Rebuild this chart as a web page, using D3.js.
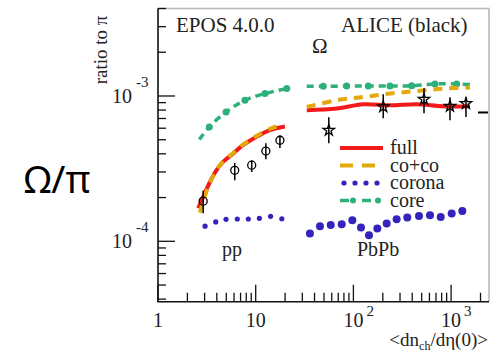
<!DOCTYPE html>
<meta charset="utf-8">
<style>
  body { margin: 0; background: #fff; }
  text { font-family: "Liberation Serif", "DejaVu Serif", serif; fill: #222; }
  .big { font-family: "Noto Sans", "Open Sans", sans-serif; fill: #000; }
</style>

<body>
  <script src="https://cdn.jsdelivr.net/npm/d3@7"></script>
  <script>
    // ALICE data (black)
    var ppMult = [2.9, 6.1, 9.1, 12.7, 17.7];
    var ppRatio = [1.89e-4, 3.08e-4, 3.34e-4, 4.18e-4, 4.96e-4];
    var ppErrLo = [1.56e-4, 2.63e-4, 3.0e-4, 3.67e-4, 4.39e-4];
    var ppErrHi = [2.24e-4, 3.46e-4, 3.61e-4, 4.72e-4, 5.37e-4];

    var pbMult = [56, 202, 528, 974, 1420];
    var pbRatio = [5.81e-4, 8.43e-4, 9.49e-4, 8.49e-4, 8.87e-4];
    var pbErrLo = [4.72e-4, 7.02e-4, 7.6e-4, 6.8e-4, 7.17e-4];
    var pbErrHi = [7.13e-4, 1.027e-3, 1.13e-3, 9.8e-4, 9.8e-4];

    var sideMark = [2120, 7.7e-4];

    // EPOS 4.0.0 curves, pp
    var ppFullX = [2.58, 2.91, 3.41, 3.99, 4.66, 5.9, 7.47, 10.2, 14.0, 19.9];
    var ppFullY = [1.69e-4, 2.03e-4, 2.57e-4, 3.1e-4, 3.53e-4, 4.03e-4, 4.6e-4, 5.25e-4, 5.83e-4, 6.17e-4];
    var ppCocoX = [2.69, 2.95, 3.41, 3.99, 4.66, 5.9, 7.47, 10.2, 14.0, 17.5];
    var ppCocoY = [1.57e-4, 1.95e-4, 2.55e-4, 3.1e-4, 3.55e-4, 4.06e-4, 4.64e-4, 5.3e-4, 5.95e-4, 6.25e-4];
    var ppCoreX = [2.65, 3.35, 4.97, 7.77, 12.45, 20.8];
    var ppCoreY = [5.01e-4, 6.12e-4, 7.76e-4, 9.34e-4, 1.039e-3, 1.124e-3];
    var ppCoronaX = [3.03, 3.9, 4.97, 6.48, 8.4, 10.9, 14.2, 18.5];
    var ppCoronaY = [1.27e-4, 1.36e-4, 1.417e-4, 1.424e-4, 1.424e-4, 1.44e-4, 1.486e-4, 1.43e-4];

    // EPOS 4.0.0 curves, PbPb
    var pbFullX = [33.3, 67.5, 126, 237, 444, 832, 1561];
    var pbFullY = [7.97e-4, 8.19e-4, 8.77e-4, 8.63e-4, 8.77e-4, 8.49e-4, 8.49e-4];
    var pbCocoY = [8.4e-4, 9.34e-4, 9.84e-4, 1.039e-3, 1.082e-3, 1.124e-3, 1.142e-3];
    var pbCoreX = [33.3, 49.2, 85.3, 142, 237, 395, 684, 1140, 1561];
    var pbCoreY = [1.166e-3, 1.166e-3, 1.17e-3, 1.17e-3, 1.17e-3, 1.175e-3, 1.21e-3, 1.21e-3, 1.2e-3];
    var pbCoronaX = [35.9, 45.5, 58.6, 75.9, 97.5, 119.6, 144.4, 175.8, 219, 277, 356, 469, 608, 783, 1014, 1303];
    var pbCoronaY = [1.13e-4, 1.27e-4, 1.295e-4, 1.309e-4, 1.395e-4, 1.243e-4, 1.1e-4, 1.223e-4,
      1.324e-4, 1.417e-4, 1.456e-4, 1.494e-4, 1.51e-4, 1.47e-4, 1.552e-4, 1.616e-4];

    var legendNames = ["full", "co+co", "corona", "core"];
    var xMajor = [1, 10, 100, 1000];
    var xMajorExp = ["", "", "2", "3"];
    var yMajor = [1e-4, 1e-3];
    var yMajorExp = ["-4", "-3"];

    var colors = {
      full: "#f31a1a",
      coco: "#e3a90a",
      corona: "#3424bd",
      core: "#2eb07b"
    };

    var margin = { top: 8.5, right: 13, bottom: 51.3, left: 158 },
      W = 502, H = 353,
      width = W - margin.left - margin.right,
      height = H - margin.top - margin.bottom;

    var x = d3.scaleLog().domain([1, 2443]).range([0, width]);
    var y = d3.scaleLog().domain([3.84e-5, 4.0e-3]).range([height, 0]);

    var svg = d3.select("body").append("svg")
      .attr("width", W)
      .attr("height", H);

    svg.append("text")
      .attr("class", "big")
      .attr("x", 24)
      .attr("y", 193)
      .style("font-size", "38px")
      .text("Ω/π");

    var g = svg.append("g")
      .attr("transform", "translate(" + margin.left + "," + margin.top + ")");

    function zip(xs, ys) {
      return xs.map(function (v, i) { return [v, ys[i]]; });
    }

    var line = d3.line()
      .x(function (d) { return x(d[0]); })
      .y(function (d) { return y(d[1]); })
      .curve(d3.curveCatmullRom.alpha(0.5));

    // frame
    g.append("path")
      .attr("d", "M0,0H" + width + "V" + height)
      .attr("fill", "none")
      .attr("stroke", "#b5b5b5")
      .attr("stroke-width", 1.5);

    // minor / major ticks
    var xTicks = [];
    [1, 10, 100, 1000].forEach(function (dec) {
      for (var k = 1; k < 10; k++) {
        if (dec * k <= 2443) xTicks.push({ v: dec * k, major: k === 1 });
      }
    });
    var yTicks = [];
    [1e-5, 1e-4, 1e-3].forEach(function (dec) {
      for (var k = 1; k < 10; k++) {
        var v = dec * k;
        if (v >= 3.84e-5 && v <= 4.0e-3) yTicks.push({ v: v, major: k === 1 });
      }
    });

    g.append("g").selectAll("line")
      .data(xTicks)
      .enter().append("line")
      .attr("x1", function (d) { return x(d.v); })
      .attr("x2", function (d) { return x(d.v); })
      .attr("y1", height)
      .attr("y2", function (d) { return height - (d.major ? 17 : 9); })
      .attr("stroke", "#111")
      .attr("stroke-width", 1.3);

    g.append("g").selectAll("line")
      .data(yTicks)
      .enter().append("line")
      .attr("y1", function (d) { return y(d.v); })
      .attr("y2", function (d) { return y(d.v); })
      .attr("x1", 0)
      .attr("x2", function (d) { return d.major ? 17 : 8; })
      .attr("stroke", "#111")
      .attr("stroke-width", 1.3);

    g.append("path")
      .attr("d", "M0,0V" + height + "H" + width)
      .attr("fill", "none")
      .attr("stroke", "#111")
      .attr("stroke-width", 1.6);

    // tick labels
    xMajor.forEach(function (v, i) {
      g.append("text")
        .attr("x", x(v))
        .attr("y", height + 25)
        .attr("text-anchor", "middle")
        .style("font-size", "20px")
        .text(v === 1 ? "1" : "10");
      if (xMajorExp[i]) {
        g.append("text")
          .attr("x", x(v) + 13)
          .attr("y", height + 14)
          .style("font-size", "15px")
          .text(xMajorExp[i]);
      }
    });

    yMajor.forEach(function (v, i) {
      g.append("text")
        .attr("x", -26)
        .attr("y", y(v) + 7)
        .attr("text-anchor", "end")
        .style("font-size", "20px")
        .text("10");
      g.append("text")
        .attr("x", -22)
        .attr("y", y(v) - 9)
        .style("font-size", "15px")
        .text(yMajorExp[i]);
    });

    // axis titles
    var xt = svg.append("text")
      .attr("x", 488)
      .attr("y", 346)
      .attr("text-anchor", "end")
      .style("font-size", "19px");
    xt.append("tspan").text("<dn");
    xt.append("tspan").attr("dy", 4).style("font-size", "12px").text("ch");
    xt.append("tspan").attr("dy", -4).text("/dη(0)>");

    svg.append("text")
      .attr("transform", "translate(107,50) rotate(-90)")
      .attr("text-anchor", "middle")
      .style("font-size", "19px")
      .text("ratio to π");

    // labels inside the frame
    svg.append("text").attr("x", 176).attr("y", 31.5).style("font-size", "21px").text("EPOS 4.0.0");
    svg.append("text").attr("x", 341).attr("y", 31.5).style("font-size", "21px").text("ALICE (black)");
    svg.append("text").attr("x", 312).attr("y", 52.5).style("font-size", "21px").text("Ω");
    svg.append("text").attr("x", 222).attr("y", 256).style("font-size", "20px").text("pp");
    svg.append("text").attr("x", 357).attr("y", 256).style("font-size", "20px").text("PbPb");

    // model curves
    var ppFull = zip(ppFullX, ppFullY), ppCoco = zip(ppCocoX, ppCocoY),
      ppCore = zip(ppCoreX, ppCoreY), ppCorona = zip(ppCoronaX, ppCoronaY),
      pbFull = zip(pbFullX, pbFullY), pbCoco = zip(pbFullX, pbCocoY),
      pbCore = zip(pbCoreX, pbCoreY), pbCorona = zip(pbCoronaX, pbCoronaY);

    [ppCore, pbCore].forEach(function (d) {
      g.append("path").datum(d)
        .attr("d", line)
        .attr("fill", "none")
        .attr("stroke", colors.core)
        .attr("stroke-width", 3.5)
        .attr("stroke-dasharray", "7,5");
    });
    g.append("g").selectAll("circle")
      .data(ppCore.slice(1).concat(pbCore.slice(1, -1)))
      .enter().append("circle")
      .attr("cx", function (d) { return x(d[0]); })
      .attr("cy", function (d) { return y(d[1]); })
      .attr("r", 3.5)
      .attr("fill", colors.core);

    [ppFull, pbFull].forEach(function (d) {
      g.append("path").datum(d)
        .attr("d", line)
        .attr("fill", "none")
        .attr("stroke", colors.full)
        .attr("stroke-width", 4);
    });
    [ppCoco, pbCoco].forEach(function (d) {
      g.append("path").datum(d)
        .attr("d", line)
        .attr("fill", "none")
        .attr("stroke", colors.coco)
        .attr("stroke-width", 4)
        .attr("stroke-dasharray", "9,7");
    });

    g.append("g").selectAll("circle")
      .data(ppCorona)
      .enter().append("circle")
      .attr("cx", function (d) { return x(d[0]); })
      .attr("cy", function (d) { return y(d[1]); })
      .attr("r", 2.6)
      .attr("fill", colors.corona);
    g.append("g").selectAll("circle")
      .data(pbCorona)
      .enter().append("circle")
      .attr("cx", function (d) { return x(d[0]); })
      .attr("cy", function (d) { return y(d[1]); })
      .attr("r", 4)
      .attr("fill", colors.corona);

    // ALICE points
    var pp = ppMult.map(function (v, i) { return { x: v, y: ppRatio[i], lo: ppErrLo[i], hi: ppErrHi[i] }; });
    var pb = pbMult.map(function (v, i) { return { x: v, y: pbRatio[i], lo: pbErrLo[i], hi: pbErrHi[i] }; });

    g.append("g").selectAll("line")
      .data(pp.concat(pb))
      .enter().append("line")
      .attr("x1", function (d) { return x(d.x); })
      .attr("x2", function (d) { return x(d.x); })
      .attr("y1", function (d) { return y(d.lo); })
      .attr("y2", function (d) { return y(d.hi); })
      .attr("stroke", "#000")
      .attr("stroke-width", 1.5);

    g.append("g").selectAll("circle")
      .data(pp)
      .enter().append("circle")
      .attr("cx", function (d) { return x(d.x); })
      .attr("cy", function (d) { return y(d.y); })
      .attr("r", 4)
      .attr("fill", "none")
      .attr("stroke", "#000")
      .attr("stroke-width", 1.3);

    g.append("g").selectAll("path")
      .data(pb)
      .enter().append("path")
      .attr("transform", function (d) { return "translate(" + x(d.x) + "," + y(d.y) + ")"; })
      .attr("d", d3.symbol(d3.symbolStar, 40))
      .attr("fill", "none")
      .attr("stroke", "#000")
      .attr("stroke-width", 1.3);

    g.append("line")
      .attr("x1", x(sideMark[0]) - 5)
      .attr("x2", x(sideMark[0]) + 5)
      .attr("y1", y(sideMark[1]))
      .attr("y2", y(sideMark[1]))
      .attr("stroke", "#000")
      .attr("stroke-width", 2);

    // legend
    var legend = svg.append("g").attr("transform", "translate(340,148)");
    var rowH = 17.5;
    legendNames.forEach(function (name, i) {
      var ly = i * rowH;
      if (name === "full") {
        legend.append("line").attr("x1", 0).attr("x2", 43).attr("y1", ly).attr("y2", ly)
          .attr("stroke", colors.full).attr("stroke-width", 4);
      } else if (name === "co+co") {
        legend.append("line").attr("x1", 0).attr("x2", 43).attr("y1", ly).attr("y2", ly)
          .attr("stroke", colors.coco).attr("stroke-width", 4).attr("stroke-dasharray", "13,9");
      } else if (name === "corona") {
        [4, 15, 26, 37].forEach(function (cx) {
          legend.append("circle").attr("cx", cx).attr("cy", ly).attr("r", 2.6).attr("fill", colors.corona);
        });
      } else {
        legend.append("line").attr("x1", 0).attr("x2", 43).attr("y1", ly).attr("y2", ly)
          .attr("stroke", colors.core).attr("stroke-width", 3.5).attr("stroke-dasharray", "9,13");
        [13, 38].forEach(function (cx) {
          legend.append("circle").attr("cx", cx).attr("cy", ly).attr("r", 3).attr("fill", colors.core);
        });
      }
      legend.append("text")
        .attr("x", 50)
        .attr("y", ly + 6)
        .style("font-size", "20px")
        .text(name);
    });
  </script>
</body>
